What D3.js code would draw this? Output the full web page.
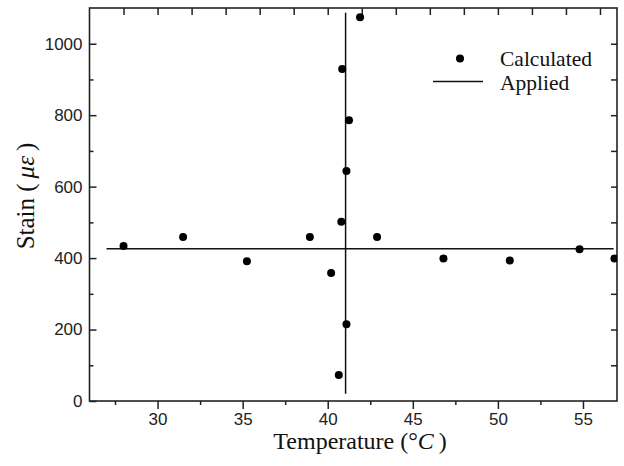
<!DOCTYPE html>
<html>
<head>
<meta charset="utf-8">
<script src="https://cdn.jsdelivr.net/npm/d3@7"></script>
<style>
  body { margin: 0; background: #fff; }
  .tick text { font-family: "Liberation Sans", Arial, sans-serif; font-size: 17px; fill: #222; }
  .ttl { font-family: "Liberation Serif", "Times New Roman", serif; fill: #111; }
</style>
</head>
<body>
<div id="chart"></div>
<script>
// calculated strain vs temperature
const tempCalc = [28.0, 31.5, 35.25, 38.95, 40.2, 40.8, 42.9, 46.8, 50.7, 54.8, 56.85, 41.1, 40.65, 41.9, 40.85, 41.25, 41.1];
const strainCalc = [434, 459, 391, 459, 358, 502, 459, 399, 393, 425, 399, 215, 73, 1074, 929, 786, 644];

// applied lines
const appliedHTemp = [27, 56.8];
const appliedHStrain = [426, 426];
const appliedVTemp = [41.05, 41.05];
const appliedVStrain = [20, 1087];

const xMajor = [30, 35, 40, 45, 50, 55];
const xMinor = [27.5, 32.5, 37.5, 42.5, 47.5, 52.5];
const xTop = [28, 30, 32, 34, 36, 38, 40, 42, 44, 46, 48, 50, 52, 54, 56];
const yMajor = [0, 200, 400, 600, 800, 1000];
const yMinor = [100, 300, 500, 700, 900];
const yRight = [100, 200, 300, 400, 500, 600, 700, 800, 900, 1000];

const width = 624;
const height = 466;
const margin = { top: 8, right: 7, bottom: 65, left: 89.5 };

const svg = d3.select("#chart").append("svg")
  .attr("width", width)
  .attr("height", height);

const x = d3.scaleLinear().domain([26, 57]).range([margin.left, width - margin.right]);
const y = d3.scaleLinear().domain([0, 1100]).range([height - margin.bottom, margin.top]);

svg.append("defs").append("clipPath").attr("id", "clip")
  .append("rect")
  .attr("x", x(26)).attr("y", y(1100))
  .attr("width", x(57) - x(26)).attr("height", y(0) - y(1100));

// axes
function styleAxis(g) {
  g.select(".domain").remove();
  g.selectAll(".tick line").attr("stroke", "#222").attr("stroke-width", 1.5);
}

svg.append("g")
  .attr("transform", `translate(0,${y(0)})`)
  .call(d3.axisBottom(x).tickValues(xMajor).tickSize(8).tickPadding(3.5).tickFormat(d3.format("d")))
  .call(styleAxis);

svg.append("g")
  .attr("transform", `translate(0,${y(0)})`)
  .call(d3.axisBottom(x).tickValues(xMinor).tickSize(4).tickFormat(""))
  .call(styleAxis);

svg.append("g")
  .attr("transform", `translate(0,${y(1100)})`)
  .call(d3.axisTop(x).tickValues(xTop).tickSize(-7).tickFormat(""))
  .call(styleAxis);

svg.append("g")
  .attr("transform", `translate(${x(26)},0)`)
  .call(d3.axisLeft(y).tickValues(yMajor).tickSize(-7).tickPadding(7).tickFormat(d3.format("d")))
  .call(styleAxis);

svg.append("g")
  .attr("transform", `translate(${x(26)},0)`)
  .call(d3.axisLeft(y).tickValues(yMinor).tickSize(-4).tickFormat(""))
  .call(styleAxis);

svg.append("g")
  .attr("transform", `translate(${x(57)},0)`)
  .call(d3.axisRight(y).tickValues(yRight).tickSize(-6).tickFormat(""))
  .call(styleAxis);

// frame
svg.append("rect")
  .attr("x", x(26)).attr("y", y(1100))
  .attr("width", x(57) - x(26)).attr("height", y(0) - y(1100))
  .attr("fill", "none").attr("stroke", "#222").attr("stroke-width", 1.6);

const plot = svg.append("g").attr("clip-path", "url(#clip)");

const line = d3.line().x((d) => x(d[0])).y((d) => y(d[1]));

plot.append("path")
  .datum(appliedHTemp.map((t, i) => [t, appliedHStrain[i]]))
  .attr("fill", "none").attr("stroke", "#111").attr("stroke-width", 1.5)
  .attr("d", line);

plot.append("path")
  .datum(appliedVTemp.map((t, i) => [t, appliedVStrain[i]]))
  .attr("fill", "none").attr("stroke", "#111").attr("stroke-width", 1.5)
  .attr("d", line);

plot.selectAll("circle")
  .data(tempCalc.map((t, i) => [t, strainCalc[i]]))
  .join("circle")
  .attr("cx", (d) => x(d[0]))
  .attr("cy", (d) => y(d[1]))
  .attr("r", 4)
  .attr("fill", "#000");

// legend
const legend = svg.append("g");
legend.append("circle").attr("cx", 460).attr("cy", 58.5).attr("r", 4).attr("fill", "#000");
legend.append("text").attr("class", "ttl").attr("x", 500).attr("y", 66)
  .attr("font-size", 21.5).text("Calculated");
legend.append("line").attr("x1", 433).attr("x2", 483).attr("y1", 81.5).attr("y2", 81.5)
  .attr("stroke", "#111").attr("stroke-width", 1.5);
legend.append("text").attr("class", "ttl").attr("x", 500).attr("y", 89.5)
  .attr("font-size", 21.5).text("Applied");

// axis titles
const xt = svg.append("text").attr("class", "ttl")
  .attr("x", 360).attr("y", 449)
  .attr("text-anchor", "middle").attr("font-size", 24);
xt.append("tspan").text("Temperature (°");
xt.append("tspan").attr("font-style", "italic").text("C");
xt.append("tspan").text("\u2009)");

const yt = svg.append("text").attr("class", "ttl")
  .attr("transform", "translate(33.5,196) rotate(-90)")
  .attr("text-anchor", "middle").attr("font-size", 25);
yt.append("tspan").text("Stain (\u2009");
yt.append("tspan").attr("font-style", "italic").text("με");
yt.append("tspan").text("\u2009)");
</script>
</body>
</html>
